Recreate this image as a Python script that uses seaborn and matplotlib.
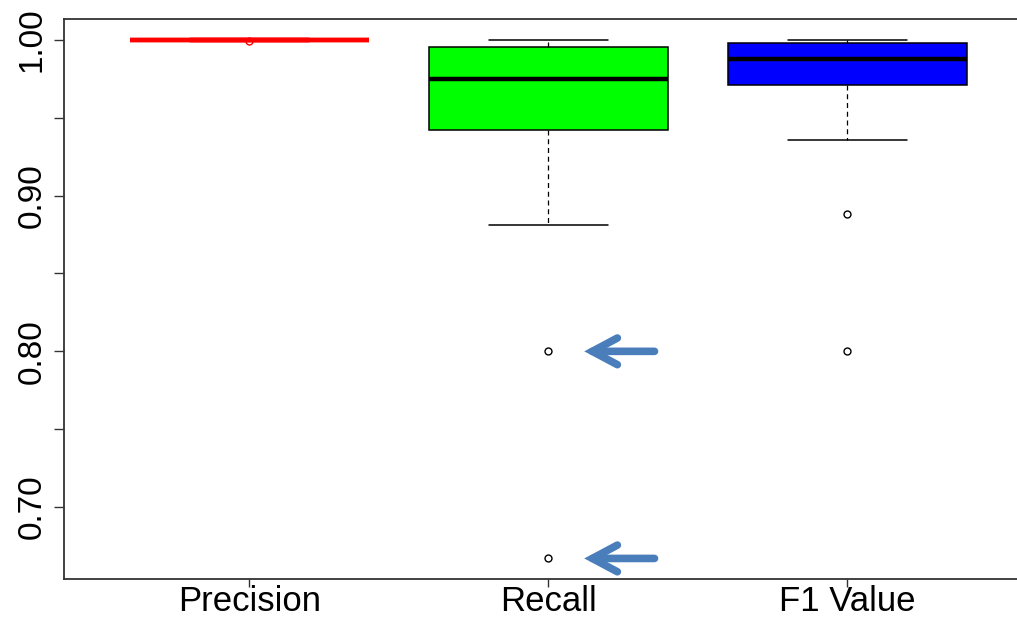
import matplotlib
matplotlib.use("Agg")
import matplotlib.pyplot as plt
from matplotlib.patches import FancyArrowPatch
import pandas as pd
import seaborn as sns

# Values (per-run scores)
metrics = ["Precision", "Recall", "F1 Value"]
precision = [1.0] * 16 + [0.999]
recall = [0.667, 0.800, 0.881, 0.920, 0.942, 0.950, 0.960, 0.968, 0.975,
          0.980, 0.985, 0.990, 0.9955, 1.0, 1.0, 1.0, 1.0]
f1_value = [0.800, 0.888, 0.936, 0.955, 0.971, 0.975, 0.980, 0.985, 0.988,
            0.990, 0.993, 0.995, 0.998, 1.0, 1.0, 1.0, 1.0]
box_colors = ["#ff0000", "#00ff00", "#0000ff"]
y_ticks = [0.70, 0.75, 0.80, 0.85, 0.90, 0.95, 1.00]
y_labels = ["0.70", "", "0.80", "", "0.90", "", "1.00"]
flagged = [0.800, 0.667]   # recall outliers marked with arrows

df = pd.DataFrame({
    "metric": ["Precision"] * len(precision) + ["Recall"] * len(recall) + ["F1 Value"] * len(f1_value),
    "value": precision + recall + f1_value,
})

sns.set_theme(style="white")
plt.rcParams["font.family"] = ["Liberation Sans", "DejaVu Sans"]

fig = plt.figure(figsize=(10.17, 6.17), dpi=100)
ax = fig.add_axes([0.0629, 0.0611, 0.9526, 0.908])

sns.boxplot(data=df, x="metric", y="value", hue="metric", order=metrics,
            palette=dict(zip(metrics, box_colors)), legend=False, saturation=1,
            width=0.8, whis=1.5, linecolor="black", linewidth=1.1,
            fliersize=5, ax=ax,
            medianprops={"linewidth": 3.2},
            whiskerprops={"linestyle": (0, (4, 3)), "linewidth": 0.9},
            capprops={"linewidth": 1.1},
            flierprops={"marker": "o", "markerfacecolor": "none",
                        "markeredgecolor": "black", "markeredgewidth": 1.0})

# precision box collapses to a line: draw it in red
for ln in ax.lines:
    xs = ln.get_xdata()
    if len(xs) and abs(sum(xs) / len(xs)) < 0.5:
        ln.set_color(box_colors[0])
        ln.set_markeredgecolor(box_colors[0])
        if ln.get_marker() in (None, "None", ""):
            ln.set_linewidth(3.2)
for p in ax.patches:
    x0 = p.get_path().get_extents().x0
    if x0 < 0:
        p.set_edgecolor(box_colors[0])
        p.set_linewidth(3.2)

ax.set_xlim(-0.62, 2.62)
ax.set_ylim(0.6536, 1.0134)
ax.set_yticks(y_ticks)
ax.set_yticklabels(y_labels, rotation=90, va="center")
ax.set_xlabel("")
ax.set_ylabel("")
ax.tick_params(axis="y", length=7.5, width=1.0, color="#333333", pad=4,
               labelsize=24, labelcolor="black", left=True)
ax.tick_params(axis="x", length=6, width=1.0, color="#333333", pad=-2,
               labelsize=25, labelcolor="black", bottom=True)
for s in ax.spines.values():
    s.set_color("#333333")
    s.set_linewidth(1.3)

# arrows pointing at the recall outliers
for v in flagged:
    arr = FancyArrowPatch((1.355, v), (1.12, v),
                          arrowstyle="->,head_length=0.9,head_width=0.48",
                          mutation_scale=20, color="#4a7ebb", linewidth=5.5,
                          capstyle="round", joinstyle="miter",
                          shrinkA=0, shrinkB=0)
    ax.add_patch(arr)

fig.savefig("out.png", dpi=100)
